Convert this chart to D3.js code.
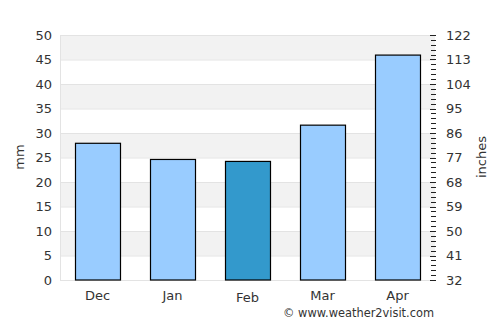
<!DOCTYPE html>
<html><head><meta charset="utf-8">
<script src="https://cdn.jsdelivr.net/npm/d3@7"></script>
<style>body{margin:0;background:#fff}svg{display:block;font-family:"DejaVu Sans",sans-serif}</style>
</head><body><svg id="c" width="500" height="325"></svg>
<script>
const months = ["Dec","Jan","Feb","Mar","Apr"];
const rainfall = [27.9, 24.6, 24.2, 31.6, 45.9];
const highlight = "Feb";
const leftTicks = [0,5,10,15,20,25,30,35,40,45,50];
const rightTicks = [32,41,50,59,68,77,86,95,104,113,122];

const svg = d3.select("#c");
const L=60, R=435, T=35, B=280;
const x = d3.scaleBand().domain(months).range([L,R]).paddingInner(0.4).paddingOuter(0.2);
const y = d3.scaleLinear().domain([0,50]).range([B,T]);
const y2 = d3.scaleLinear().domain([32,122]).range([B,T]);

// alternating bands
for(let i=0;i<leftTicks.length-1;i++){
  if(i%2===1){
    svg.append("rect").attr("x",L).attr("width",R-L)
      .attr("y",y(leftTicks[i+1])).attr("height",y(leftTicks[i])-y(leftTicks[i+1]))
      .attr("fill","#f2f2f2");
  }
}
// gridlines
svg.append("g").selectAll("line").data(leftTicks).join("line")
  .attr("x1",L).attr("x2",R).attr("y1",d=>y(d)+0.5).attr("y2",d=>y(d)+0.5)
  .attr("stroke","#e3e3e3").attr("stroke-width",1);
svg.append("line").attr("x1",L+0.5).attr("x2",L+0.5).attr("y1",T).attr("y2",B).attr("stroke","#e3e3e3");

// bars
svg.append("g").selectAll("rect").data(months).join("rect")
  .attr("x",d=>Math.round(x(d))+0.5).attr("width",Math.round(x.bandwidth()))
  .attr("y",(d,i)=>y(rainfall[i])).attr("height",(d,i)=>B-y(rainfall[i]))
  .attr("fill",d=>d===highlight?"#3399cc":"#99ccff")
  .attr("stroke","#000").attr("stroke-width",1.2);

// left axis
const la = svg.append("g").attr("transform",`translate(${L},0)`)
  .call(d3.axisLeft(y).tickValues(leftTicks).tickSize(0).tickPadding(8));
la.select(".domain").remove();
la.selectAll("text").attr("font-size",13).attr("fill","#333").attr("font-family","DejaVu Sans");

// right axis
const ra = svg.append("g").attr("transform",`translate(${R},0)`)
  .call(d3.axisRight(y2).tickValues(rightTicks).tickSize(0).tickPadding(11));
ra.select(".domain").remove();
ra.selectAll("text").attr("font-size",13).attr("fill","#333").attr("font-family","DejaVu Sans");
// minor ticks: one per mm on the shared vertical scale
const minor = d3.range(0,51,1);
svg.append("g").selectAll("line").data(minor).join("line")
  .attr("x1",d=>d%5===0?R-5:R-4).attr("x2",R+1)
  .attr("y1",d=>Math.round(y(d))+0.5).attr("y2",d=>Math.round(y(d))+0.5)
  .attr("stroke","#222").attr("stroke-width",1);

// x axis labels
svg.append("g").selectAll("text").data(months).join("text")
  .attr("x",d=>x(d)+x.bandwidth()/2).attr("y",d=>d===highlight?302:300)
  .attr("text-anchor","middle").attr("font-size",13).attr("fill","#333").text(d=>d);

// axis titles
svg.append("text").attr("transform","translate(24,157) rotate(-90)")
  .attr("text-anchor","middle").attr("font-size",13).attr("fill","#333").text("mm");
svg.append("text").attr("transform","translate(486,157) rotate(-90)")
  .attr("text-anchor","middle").attr("font-size",13).attr("fill","#333").text("inches");

svg.append("text").attr("x",434).attr("y",317).attr("text-anchor","end")
  .attr("font-size",11.4).attr("fill","#333").text("© www.weather2visit.com");
</script></body></html>
